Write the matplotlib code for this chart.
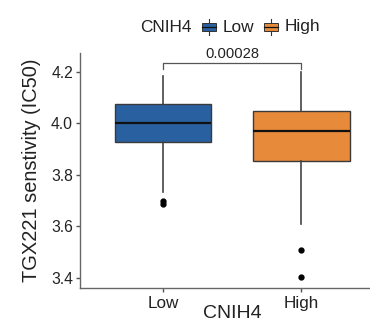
import matplotlib
matplotlib.use("Agg")
import matplotlib.pyplot as plt
from matplotlib.patches import Rectangle
from matplotlib.lines import Line2D

plt.rcParams['font.family'] = ['Liberation Sans', 'DejaVu Sans']

groups = ["Low", "High"]
colors = ["#2960A0", "#E78A3A"]
# box stats: whislo, q1, med, q3, whishi
whislo = [3.733, 3.608]
q1 = [3.927, 3.855]
med = [4.000, 3.970]
q3 = [4.075, 4.050]
whishi = [4.186, 4.199]
fliers = [[3.698, 3.686], [3.508, 3.401]]
pval_text = "0.00028"
yticks = [3.4, 3.6, 3.8, 4.0, 4.2]

W, H = 370, 328
fig = plt.figure(figsize=(W/100, H/100), dpi=100)
ax_left, ax_right = 80/W, 384.5/W
ax_bottom, ax_top = 1 - 287.7/H, 1 - 53/H
ax = fig.add_axes([ax_left, ax_bottom, ax_right - ax_left, ax_top - ax_bottom])

stats = []
for i, g in enumerate(groups):
    stats.append(dict(label=g, whislo=whislo[i], q1=q1[i], med=med[i], q3=q3[i],
                      whishi=whishi[i], fliers=fliers[i]))
bp = ax.bxp(stats, positions=[1, 2], widths=0.7, patch_artist=True,
            showcaps=False,
            boxprops=dict(edgecolor="#3a3a3a", linewidth=1.0),
            medianprops=dict(color="#111111", linewidth=1.6),
            whiskerprops=dict(color="#444444", linewidth=1.2),
            flierprops=dict(marker='o', markerfacecolor='black', markeredgecolor='black',
                            markersize=3.5))
for patch, c in zip(bp['boxes'], colors):
    patch.set_facecolor(c)

ax.set_xlim(0.4, 2.6)
ax.set_ylim(3.361, 4.274)
ax.set_yticks(yticks)
ax.set_yticklabels([f"{t:.1f}" for t in yticks])
ax.set_xticks([1, 2])
ax.set_xticklabels(groups)
ax.tick_params(axis='both', color="#555555", length=3, width=1, labelcolor="#222222")
ax.tick_params(axis='y', labelsize=11.3, pad=2)
ax.tick_params(axis='x', labelsize=12.3, pad=3)
for s in ['top', 'right']:
    ax.spines[s].set_visible(False)
for s in ['left', 'bottom']:
    ax.spines[s].set_color("#666666")
    ax.spines[s].set_linewidth(1.0)

ax.set_xlabel("CNIH4", fontsize=14, color="#222222", labelpad=-4)
ax.set_ylabel("TGX221 senstivity (IC50)", fontsize=14.4, color="#222222", labelpad=7)

# significance bracket
yb = 4.237
ax.plot([1, 1, 2, 2], [4.21, yb, yb, 4.21], color="#555555", linewidth=0.9)
ax.text(1.5, yb + 0.006, pval_text, ha='center', va='bottom', fontsize=10.6, color="#222222")

# legend (manual)
yc = 1 - 27/H
fig.text(140/W, yc, "CNIH4", fontsize=12.4, va='center', ha='left', color="#222222")
for g, c, x0, xt in zip(groups, colors, [202, 263.5], [223, 285]):
    bw, bh = 14, 8
    r = Rectangle((x0/W, yc - bh/2/H), bw/W, bh/H, transform=fig.transFigure,
                  facecolor=c, edgecolor="#333333", linewidth=0.7)
    fig.add_artist(r)
    fig.add_artist(Line2D([x0/W, (x0+bw)/W], [yc, yc], transform=fig.transFigure,
                          color="#111111", linewidth=0.9))
    xm = (x0 + bw/2)/W
    fig.add_artist(Line2D([xm, xm], [yc - bh/2/H, yc - 8/H], transform=fig.transFigure,
                          color="#333333", linewidth=0.8))
    fig.add_artist(Line2D([xm, xm], [yc + bh/2/H, yc + 8/H], transform=fig.transFigure,
                          color="#333333", linewidth=0.8))
    fig.text(xt/W, yc, g, fontsize=12.4, va='center', ha='left', color="#222222")

fig.savefig("out.png", dpi=100)
